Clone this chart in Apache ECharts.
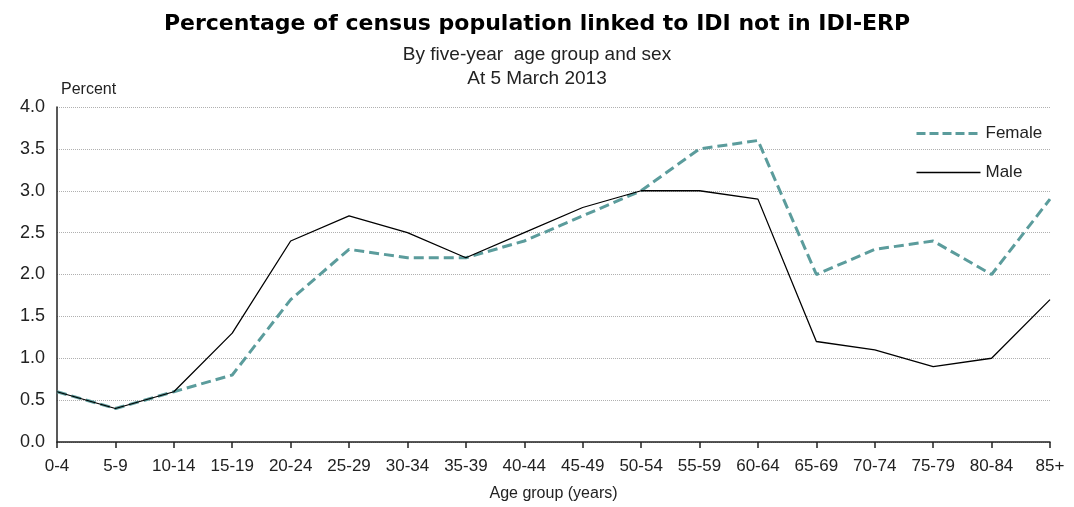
<!DOCTYPE html>
<html>
<head>
<meta charset="utf-8">
<script src="https://cdn.jsdelivr.net/npm/echarts@6/dist/echarts.min.js"></script>
<style>
  html, body { margin: 0; padding: 0; background: #fff; }
  #chart { width: 1074px; height: 507px; }
</style>
</head>
<body>
<div id="chart"></div>
<script>
// 数据
const ageGroups = ["0-4", "5-9", "10-14", "15-19", "20-24", "25-29", "30-34", "35-39", "40-44",
  "45-49", "50-54", "55-59", "60-64", "65-69", "70-74", "75-79", "80-84", "85+"];
const femaleValues = [0.6, 0.4, 0.6, 0.8, 1.7, 2.3, 2.2, 2.2, 2.4, 2.7, 3.0, 3.5, 3.6, 2.0, 2.3, 2.4, 2.0, 2.9];
const maleValues = [0.6, 0.4, 0.6, 1.3, 2.4, 2.7, 2.5, 2.2, 2.5, 2.8, 3.0, 3.0, 2.9, 1.2, 1.1, 0.9, 1.0, 1.7];

const fontFamily = "Liberation Sans, Arial, sans-serif";
const wideFont = "DejaVu Sans, sans-serif";
const teal = "#5b9c9c";

const myChart = echarts.init(document.getElementById("chart"));

const option = {
  backgroundColor: "#fff",
  animation: false,
  textStyle: { fontFamily: fontFamily },
  title: [
    {
      text: "Percentage of census population linked to IDI not in IDI-ERP",
      left: "center",
      top: 8,
      textStyle: { fontSize: 22, fontWeight: "bold", color: "#000", fontFamily: wideFont },
    },
    {
      text: "By five-year  age group and sex",
      left: "center",
      top: 40,
      textStyle: { fontSize: 19, fontWeight: "normal", color: "#222", fontFamily: fontFamily },
    },
    {
      text: "At 5 March 2013",
      left: "center",
      top: 64,
      textStyle: { fontSize: 19, fontWeight: "normal", color: "#222", fontFamily: fontFamily },
    },
  ],
  // 图例
  legend: {
    orient: "vertical",
    left: 910,
    top: 120,
    itemWidth: 64,
    itemHeight: 12,
    itemGap: 22,
    itemStyle: { opacity: 0 },
    textStyle: { fontSize: 17, color: "#222", fontFamily: fontFamily },
    data: [
      { name: "Female", lineStyle: { width: 3, type: [9, 4] } },
      { name: "Male", lineStyle: { width: 1.5 } },
    ],
  },
  grid: { left: 57, right: 24, top: 107, bottom: 64, containLabel: false },
  xAxis: {
    type: "category",
    boundaryGap: false,
    data: ageGroups,
    name: "Age group (years)",
    nameLocation: "middle",
    nameGap: 44,
    nameTextStyle: { fontSize: 16, color: "#222" },
    axisLine: { lineStyle: { color: "#222", width: 1.5 } },
    axisTick: { show: true, length: 6, lineStyle: { color: "#222", width: 1.5 } },
    axisLabel: { fontSize: 17, color: "#222", margin: 16, interval: 0 },
    splitLine: { show: false },
  },
  yAxis: {
    type: "value",
    min: 0,
    max: 4,
    interval: 0.5,
    name: "Percent",
    nameLocation: "end",
    nameGap: 9,
    nameTextStyle: { fontSize: 16, color: "#222", align: "left", padding: [0, 0, 0, 4] },
    axisLine: { show: true, lineStyle: { color: "#222", width: 1.5 } },
    axisTick: { show: false },
    axisLabel: {
      fontSize: 18,
      color: "#222",
      margin: 12,
      formatter: (v) => v.toFixed(1),
    },
    splitLine: { show: true, lineStyle: { color: "#b0b0b0", type: "dotted", width: 1 } },
  },
  series: [
    {
      name: "Female",
      type: "line",
      data: femaleValues,
      symbol: "none",
      lineStyle: { color: teal, width: 3, type: [10, 5] },
      itemStyle: { color: teal },
    },
    {
      name: "Male",
      type: "line",
      data: maleValues,
      symbol: "none",
      lineStyle: { color: "#000", width: 1.3 },
      itemStyle: { color: "#000" },
    },
  ],
};

option && myChart.setOption(option);
</script>
</body>
</html>
